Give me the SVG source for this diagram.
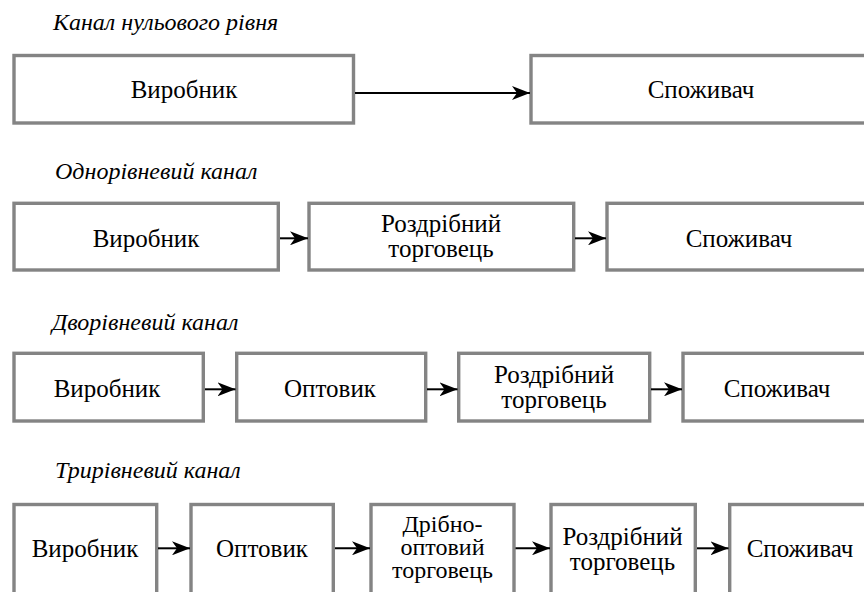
<svg xmlns="http://www.w3.org/2000/svg" width="864" height="592" viewBox="0 0 864 592">
<style>
.box{fill:#fff;stroke:#848484;stroke-width:3.4}
.c{stroke:#000;stroke-width:2;fill:none}
</style>
<defs>
<marker id="ah" markerUnits="userSpaceOnUse" viewBox="0 0 18 14" refX="18" refY="7" markerWidth="18" markerHeight="14" orient="auto">
<path d="M0,0 L18,7 L0,14 L5,7 z" fill="#000"/>
</marker>
</defs>
<g id="titles">
<text font-family="Liberation Serif, serif" font-size="24" font-style="italic" x="53" y="30">Канал нульового рівня</text>
<text font-family="Liberation Serif, serif" font-size="24" font-style="italic" x="55" y="179">Однорівневий канал</text>
<text font-family="Liberation Serif, serif" font-size="24" font-style="italic" x="52" y="330">Дворівневий канал</text>
<text font-family="Liberation Serif, serif" font-size="24" font-style="italic" x="55" y="478">Трирівневий канал</text>
</g>
<g id="r1n1"><rect class="box" x="14" y="55.5" width="339.5" height="67.5"/><text font-family="Liberation Serif, serif" font-size="25" text-anchor="middle" x="184" y="98">Виробник</text></g>
<g id="r1n2"><rect class="box" x="531" y="55.5" width="360" height="67.5"/><text font-family="Liberation Serif, serif" font-size="25" text-anchor="middle" x="701" y="98">Споживач</text></g>
<g id="r2n1"><rect class="box" x="14" y="203.3" width="264.3" height="66.7"/><text font-family="Liberation Serif, serif" font-size="25" text-anchor="middle" x="146" y="247">Виробник</text></g>
<g id="r2n2"><rect class="box" x="309" y="203.3" width="264.7" height="66.7"/><text font-family="Liberation Serif, serif" font-size="25" text-anchor="middle" x="441" y="232">Роздрібний</text><text font-family="Liberation Serif, serif" font-size="25" text-anchor="middle" x="441" y="257">торговець</text></g>
<g id="r2n3"><rect class="box" x="607" y="203.3" width="290" height="66.7"/><text font-family="Liberation Serif, serif" font-size="25" text-anchor="middle" x="739" y="247">Споживач</text></g>
<g id="r3n1"><rect class="box" x="14" y="353.3" width="189.3" height="67.7"/><text font-family="Liberation Serif, serif" font-size="25" text-anchor="middle" x="107" y="397">Виробник</text></g>
<g id="r3n2"><rect class="box" x="236.7" y="353.3" width="189" height="67.7"/><text font-family="Liberation Serif, serif" font-size="25" text-anchor="middle" x="330" y="397">Оптовик</text></g>
<g id="r3n3"><rect class="box" x="458.7" y="353.3" width="191" height="67.7"/><text font-family="Liberation Serif, serif" font-size="25" text-anchor="middle" x="554" y="383">Роздрібний</text><text font-family="Liberation Serif, serif" font-size="25" text-anchor="middle" x="554" y="408">торговець</text></g>
<g id="r3n4"><rect class="box" x="683" y="353.3" width="210" height="67.7"/><text font-family="Liberation Serif, serif" font-size="25" text-anchor="middle" x="777" y="397">Споживач</text></g>
<g id="r4n1"><rect class="box" x="14" y="504.5" width="142.7" height="110"/><text font-family="Liberation Serif, serif" font-size="25" text-anchor="middle" x="85" y="557">Виробник</text></g>
<g id="r4n2"><rect class="box" x="191" y="504.5" width="142.3" height="110"/><text font-family="Liberation Serif, serif" font-size="25" text-anchor="middle" x="262" y="557">Оптовик</text></g>
<g id="r4n3"><rect class="box" x="371" y="504.5" width="143" height="110"/><text font-family="Liberation Serif, serif" font-size="24" text-anchor="middle" x="442.5" y="532">Дрібно-</text><text font-family="Liberation Serif, serif" font-size="24" text-anchor="middle" x="442.5" y="555">оптовий</text><text font-family="Liberation Serif, serif" font-size="24" text-anchor="middle" x="442.5" y="578">торговець</text></g>
<g id="r4n4"><rect class="box" x="551" y="504.5" width="144.3" height="110"/><text font-family="Liberation Serif, serif" font-size="25" text-anchor="middle" x="622.5" y="545">Роздрібний</text><text font-family="Liberation Serif, serif" font-size="25" text-anchor="middle" x="622.5" y="570">торговець</text></g>
<g id="r4n5"><rect class="box" x="729.7" y="504.5" width="170" height="110"/><text font-family="Liberation Serif, serif" font-size="25" text-anchor="middle" x="800" y="557">Споживач</text></g>
<g id="connectors">
<line class="c" x1="355" y1="93" x2="530" y2="93" marker-end="url(#ah)"/>
<line class="c" x1="280" y1="238.3" x2="308" y2="238.3" marker-end="url(#ah)"/>
<line class="c" x1="575" y1="238.3" x2="606" y2="238.3" marker-end="url(#ah)"/>
<line class="c" x1="205" y1="389.3" x2="235.5" y2="389.3" marker-end="url(#ah)"/>
<line class="c" x1="427" y1="389.3" x2="457.5" y2="389.3" marker-end="url(#ah)"/>
<line class="c" x1="651" y1="389.3" x2="682" y2="389.3" marker-end="url(#ah)"/>
<line class="c" x1="158" y1="548.3" x2="190" y2="548.3" marker-end="url(#ah)"/>
<line class="c" x1="335" y1="548.3" x2="370" y2="548.3" marker-end="url(#ah)"/>
<line class="c" x1="515.5" y1="548.3" x2="550" y2="548.3" marker-end="url(#ah)"/>
<line class="c" x1="697" y1="548.3" x2="728.5" y2="548.3" marker-end="url(#ah)"/>
</g>
</svg>
